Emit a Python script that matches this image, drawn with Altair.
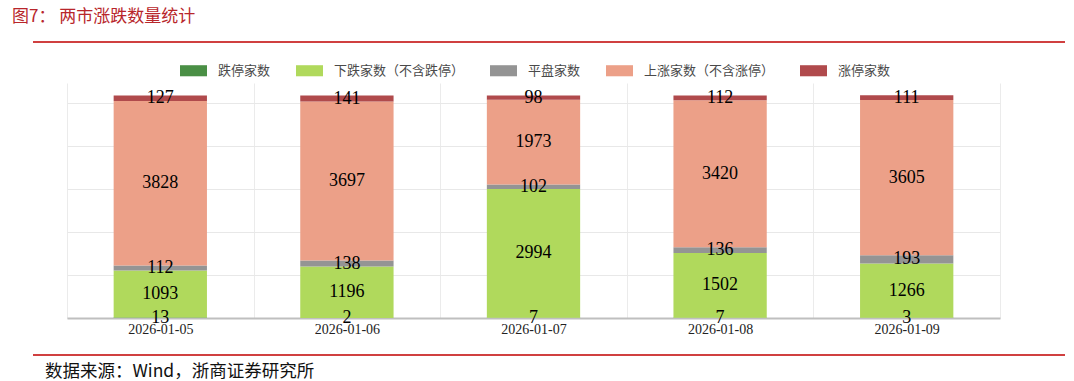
import altair as alt
import pandas as pd

dates = ["2026-01-05", "2026-01-06", "2026-01-07", "2026-01-08", "2026-01-09"]
series = ["跌停家数", "下跌家数（不含跌停）", "平盘家数", "上涨家数（不含涨停）", "涨停家数"]
limit_down = [13, 2, 7, 7, 3]
down = [1093, 1196, 2994, 1502, 1266]
flat = [112, 138, 102, 136, 193]
up = [3828, 3697, 1973, 3420, 3605]
limit_up = [127, 141, 98, 112, 111]
colors = ["#4a8f45", "#b0d95c", "#949494", "#eca088", "#b04a4c"]
grid_values = [0, 1000, 2000, 3000, 4000, 5000]
title_text = "图7：  两市涨跌数量统计"
source_text = "数据来源：Wind，浙商证券研究所"

rows = []
for i, (name, vals) in enumerate(zip(series, [limit_down, down, flat, up, limit_up])):
    for d, v in zip(dates, vals):
        rows.append({"date": d, "series": name, "idx": i, "value": v})
df = pd.DataFrame(rows)

W, H = 933, 235
yscale = alt.Scale(domain=[0, 5465], nice=False, zero=True)

base = (
    alt.Chart(df)
    .transform_stack(stack="value", groupby=["date"], as_=["y0", "y1"],
                     sort=[alt.SortField("idx", order="ascending")])
    .transform_calculate(mid="(datum.y0 + datum.y1) / 2")
)

xenc = alt.X(
    "date:N", sort=dates,
    scale=alt.Scale(paddingInner=0, paddingOuter=0),
    axis=alt.Axis(title=None, labelAngle=0, tickBand="extent", grid=True,
                  gridColor="#ebebeb", gridWidth=1, ticks=False,
                  domainColor="#bfbfbf", domainWidth=2,
                  labelFont="Liberation Serif", labelFontSize=14,
                  labelColor="#222222", labelPadding=4),
)

bars = base.mark_bar(width=alt.RelativeBandSize(0.5)).encode(
    x=xenc,
    y=alt.Y("y0:Q", scale=yscale,
            axis=alt.Axis(title=None, labels=False, ticks=False, domain=False,
                          grid=True, values=grid_values, gridColor="#e8e8e8")),
    y2="y1:Q",
    color=alt.Color(
        "series:N",
        scale=alt.Scale(domain=series, range=colors),
        legend=alt.Legend(
            title=None, orient="none", direction="horizontal", columns=5,
            legendX=113, legendY=-26, padding=0,
            symbolType="M-1,-0.41H1V0.41H-1Z", symbolSize=729,
            symbolStrokeWidth=0, symbolOpacity=1,
            labelFont="Noto Sans CJK SC", labelFontSize=13,
            labelColor="#4a4a4a", labelOffset=11, columnPadding=25,
        ),
    ),
    order=alt.Order("idx:Q", sort="ascending"),
)

labels = base.mark_text(font="Liberation Serif", fontSize=18, color="#000000",
                        baseline="middle").encode(
    x=alt.X("date:N", sort=dates),
    y=alt.Y("mid:Q", scale=yscale),
    text="value:Q",
)

title_df = pd.DataFrame({"t": [title_text]})
source_df = pd.DataFrame({"t": [source_text]})

title_mark = alt.Chart(title_df).mark_text(
    font="Noto Sans CJK SC", fontSize=17, color="#b8262b", align="left",
    baseline="middle").encode(x=alt.value(-55), y=alt.value(-66), text="t:N")

source_mark = alt.Chart(source_df).mark_text(
    font="Noto Sans CJK SC", fontSize=17.5, color="#111111", align="left",
    baseline="middle").encode(x=alt.value(-22), y=alt.value(289), text="t:N")

top_line = alt.Chart(title_df).mark_rule(color="#c00000", strokeWidth=1.5).encode(
    x=alt.value(-34), x2=alt.value(998), y=alt.value(-41))
bottom_line = alt.Chart(title_df).mark_rule(color="#c00000", strokeWidth=1.5).encode(
    x=alt.value(-34), x2=alt.value(998), y=alt.value(272))

chart = (
    alt.layer(bars, labels, title_mark, source_mark, top_line, bottom_line)
    .properties(
        width=W, height=H,
        autosize=alt.AutoSizeParams(type="none"),
        padding={"left": 67, "top": 83, "right": 74, "bottom": 63},
        background="white",
    )
    .configure_view(stroke=None)
)

chart.save("out.html", embed_options={"renderer": "svg", "actions": False})
